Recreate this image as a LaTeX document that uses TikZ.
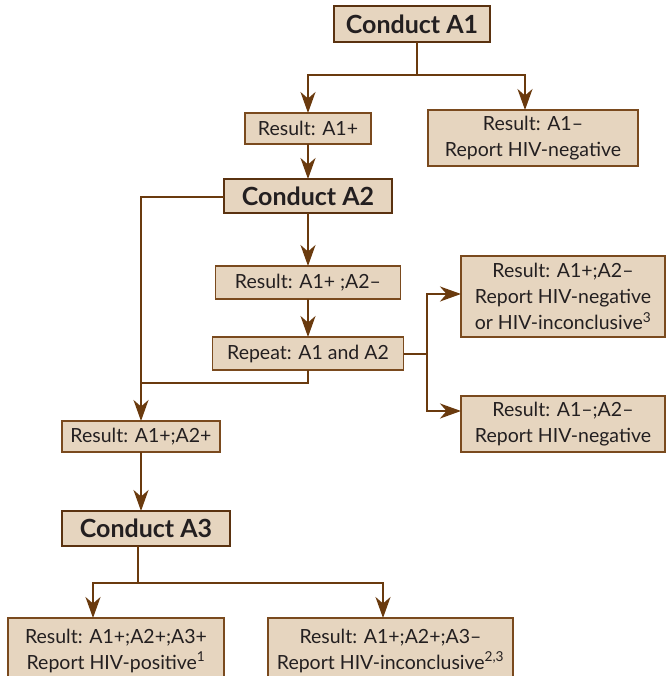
\documentclass[tikz,border=0pt]{standalone}
\usepackage{fontspec}
\setmainfont{Lato}
\usetikzlibrary{arrows.meta}
\definecolor{boxfill}{HTML}{E6D5BF}
\definecolor{boxedge}{HTML}{7A4A1E}
\definecolor{cedge}{HTML}{5A3210}
\definecolor{lineclr}{HTML}{6A3A0E}
\definecolor{txt}{HTML}{231F20}
\tikzset{
  box/.style={draw=boxedge, line width=1.2pt, fill=boxfill, text=txt, align=center,
    inner sep=0pt, outer sep=0pt, font=\fontsize{19.5}{26}\selectfont},
  cbox/.style={box, draw=cedge, line width=2.4pt, font=\fontsize{25}{26}\selectfont\bfseries},
  conn/.style={draw=lineclr, line width=2pt},
  arr/.style={conn, arrows={-Stealth[length=21pt,width=15pt,inset=6.5pt]}}}
\begin{document}
\begin{tikzpicture}[x=1pt,y=-1pt]
\useasboundingbox (0,0) rectangle (665,676);
% nodes
\node[cbox, minimum width=156, minimum height=36] (c1) at (412,24) {Conduct A1};
\node[box, minimum width=126, minimum height=31] (r1p) at (308,128.5) {Result: A1+};
\node[box, minimum width=210, minimum height=56] (r1n) at (533,138) {Result: A1–\\Report HIV-negative};
\node[cbox, minimum width=168, minimum height=34] (c2) at (308,196) {Conduct A2};
\node[box, minimum width=185, minimum height=33] (r12) at (308,282.5) {Result: A1+ ;A2–};
\node[box, minimum width=191, minimum height=33] (rep) at (308,353.5) {Repeat: A1 and A2};
\node[box, minimum width=204, minimum height=81] (ra) at (563,296.5) {Result: A1+;A2–\\Report HIV-negative\\or HIV-inconclusive\textsuperscript{3}};
\node[box, minimum width=204, minimum height=56] (rb) at (563,424) {Result: A1–;A2–\\Report HIV-negative};
\node[box, minimum width=158, minimum height=31] (r12p) at (141,436.5) {Result: A1+;A2+};
\node[cbox, minimum width=168, minimum height=35] (c3) at (146,528.5) {Conduct A3};
\node[box, minimum width=216, minimum height=66] (bl) at (116,651) {Result: A1+;A2+;A3+\\Report HIV-positive\textsuperscript{1}};
\node[box, minimum width=245, minimum height=66] (br) at (390.5,651) {Result: A1+;A2+;A3–\\Report HIV-inconclusive\textsuperscript{2,3}};
% junctions
\coordinate (j1) at (417,75);
\coordinate (jl) at (141,197);
\coordinate (jm) at (141,383);
\coordinate (jr) at (427,354);
\coordinate (j3) at (138,583);
% connectors
\draw[conn] (c1.south -| j1) -- (j1);
\draw[arr] (j1) -| (r1p.north);
\draw[arr] (j1) -| ([xshift=-8pt]r1n.north);
\draw[arr] (r1p.south) -- (c2.north);
\draw[arr] (c2.south) -- (r12.north);
\draw[arr] (r12.south) -- (rep.north);
\draw[conn] (c2.west |- jl) -- (jl) -- (jm);
\draw[conn] (rep.south) |- (jm);
\draw[arr] (jm) -- (r12p.north);
\draw[conn] (rep.east |- jr) -- (jr);
\draw[arr] (jr) |- ([yshift=2.5pt]ra.west);
\draw[arr] (jr) |- ([yshift=13pt]rb.west);
\draw[arr] (r12p.south) -- (c3.north -| r12p.south);
\draw[conn] (c3.south -| j3) -- (j3);
\draw[arr] (j3) -| ([xshift=-23pt]bl.north);
\draw[arr] (j3) -| ([xshift=-7.5pt]br.north);
\end{tikzpicture}
\end{document}
